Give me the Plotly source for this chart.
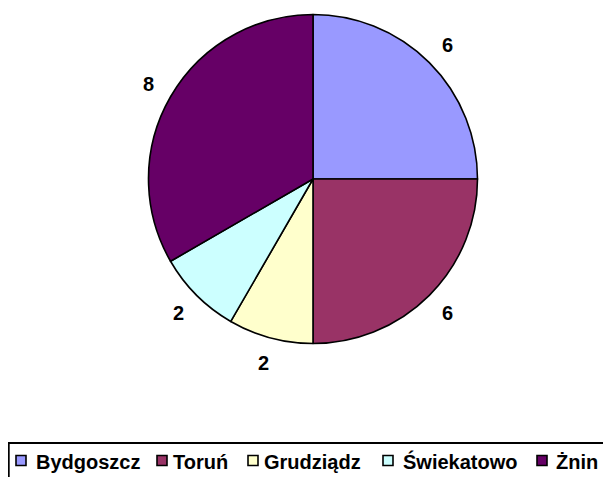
import math
import plotly.graph_objects as go

# ---- data ----
labels = ["Bydgoszcz", "Toruń", "Grudziądz", "Świekatowo", "Żnin"]
values = [6, 6, 2, 2, 8]
colors = ["#9999FF", "#993366", "#FFFFCC", "#CCFFFF", "#660066"]

# ---- layout (screen pixels; page body has an 8px margin) ----
W, H = 611, 477
OFF = 8
CX, CY, R = 313, 179, 164.5
LABEL_R = 190
FONT = "Liberation Sans, Arial, sans-serif"

legend_square_x = [16, 157, 248, 383, 537]
legend_text_x = [35, 172, 263, 402, 555]
legend_row_y = 461
legend_box = (7, 443, 625, 490)


def px(x):
    return (x - OFF) / W


def py(y):
    return 1 - (y - OFF) / H


fig = go.Figure(go.Pie(
    labels=labels, values=values, sort=False, direction="clockwise", rotation=0,
    marker=dict(colors=colors, line=dict(color="black", width=1.6)),
    textinfo="none", hoverinfo="label+value", showlegend=False,
    domain=dict(x=[px(CX - R), px(CX + R)], y=[py(CY + R), py(CY - R)]),
))

annotations = []
shapes = []

# value labels placed outside each slice, at the slice's mid angle
total = sum(values)
cum = 0
for v in values:
    mid = (cum + v / 2) / total * 2 * math.pi
    cum += v
    x = CX + LABEL_R * math.sin(mid)
    y = CY - LABEL_R * math.cos(mid)
    annotations.append(dict(
        x=px(x), y=py(y), xref="paper", yref="paper", text=f"<b>{v}</b>",
        showarrow=False, xanchor="center", yanchor="middle",
        font=dict(family=FONT, size=20, color="black")))

# legend box
bx0, by0, bx1, by1 = legend_box
shapes.append(dict(type="rect", xref="paper", yref="paper",
                   x0=px(max(bx0, OFF + 0.8)), x1=px(bx1), y0=py(by1), y1=py(by0),
                   line=dict(color="black", width=1.8), fillcolor="rgba(0,0,0,0)",
                   layer="above"))

# legend entries
for lab, col, sx, tx in zip(labels, colors, legend_square_x, legend_text_x):
    shapes.append(dict(type="rect", xref="paper", yref="paper",
                       x0=px(sx), x1=px(sx + 10), y0=py(legend_row_y + 4.5), y1=py(legend_row_y - 5.5),
                       line=dict(color="black", width=1.6), fillcolor=col))
    annotations.append(dict(
        x=px(tx - 1), y=py(legend_row_y + 0.5), xref="paper", yref="paper", text=f"<b>{lab}</b>",
        showarrow=False, xanchor="left", yanchor="middle",
        font=dict(family=FONT, size=20, color="black")))

fig.update_layout(
    width=W, height=H, margin=dict(l=0, r=0, t=0, b=0),
    paper_bgcolor="white", plot_bgcolor="white",
    showlegend=False,
    annotations=annotations, shapes=shapes,
)
fig.write_html("out.html")
